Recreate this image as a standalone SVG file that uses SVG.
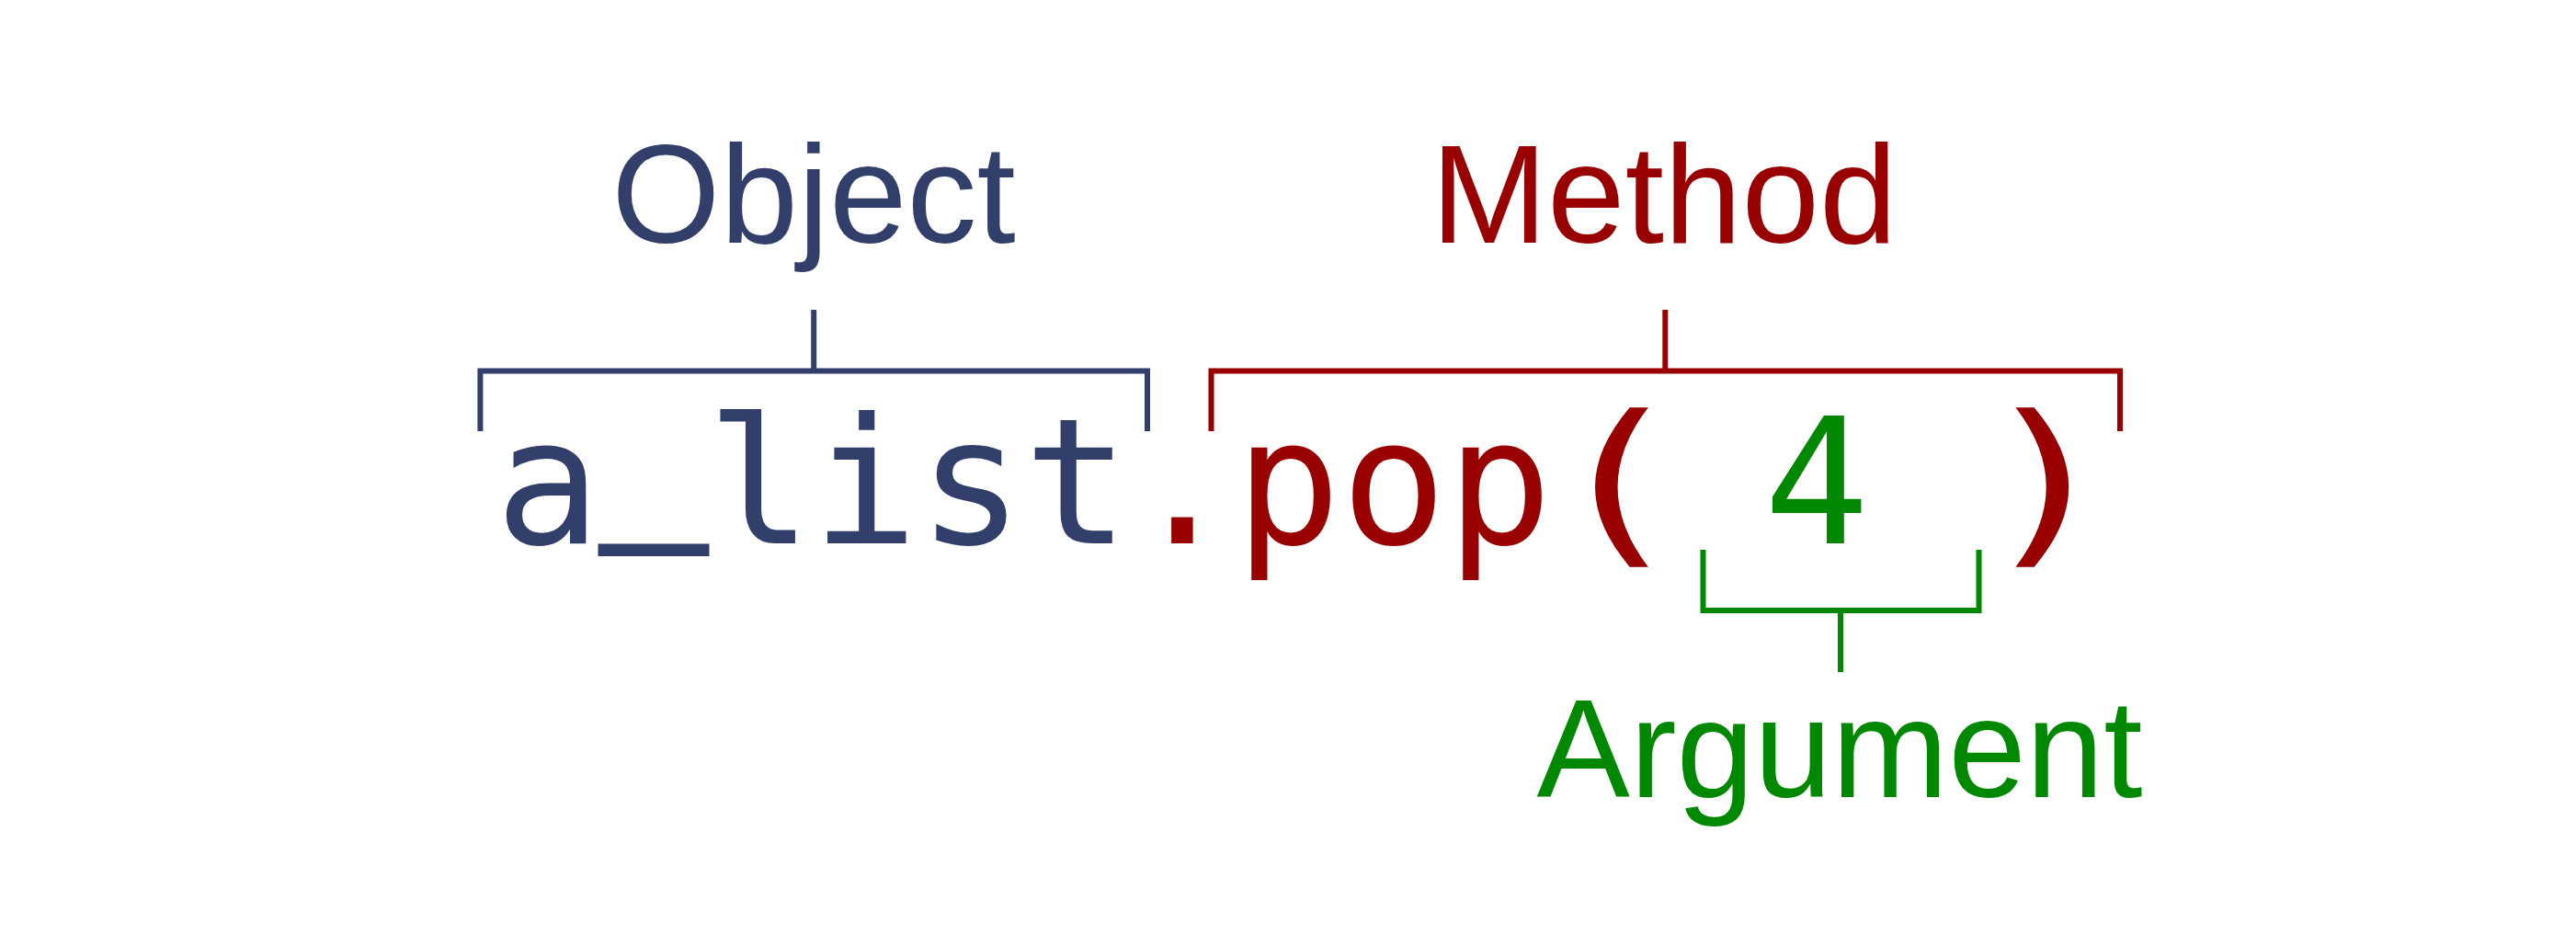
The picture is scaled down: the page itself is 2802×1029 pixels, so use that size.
<svg xmlns="http://www.w3.org/2000/svg" width="2802" height="1029" viewBox="0 0 2802 1029">
<style>
.lbl{font-family:"Liberation Sans",Arial,sans-serif;font-size:152px;text-anchor:middle}
.code{font-family:"DejaVu Sans Mono","Liberation Mono",monospace;font-size:191px;white-space:pre}
.par{text-anchor:middle}
.br{fill:none;stroke-width:6;stroke-linejoin:miter;stroke-linecap:butt}
.blue{fill:#323f6b}.red{fill:#990000}.green{fill:#008800}
.sblue{stroke:#323f6b}.sred{stroke:#990000}.sgreen{stroke:#008800}
</style>
<rect width="2802" height="1029" fill="#ffffff"/>
<g id="code">
<text class="code" y="591"><tspan class="blue" x="538.5">a</tspan><tspan class="blue" x="653.5" dy="-34" stroke="#323f6b" stroke-width="6">_</tspan><tspan class="blue" x="768.5 883.5 998.5 1113.5" dy="34">list</tspan><tspan class="red" x="1228.5 1343.5 1458.5 1573.5">.pop</tspan><tspan class="green" x="1918.5">4</tspan></text>
<text class="code red par" x="1759" y="591" transform="translate(1759 0) scale(1.35 1.02) translate(-1759 -11.6)">(</text>
<text class="code red par" x="2220" y="591" transform="translate(2202 0) scale(1.35 1.02) translate(-2202 -11.6)">)</text>
</g>
<g id="object">
<text class="lbl blue" x="885" y="264">Object</text>
</g>
<g id="method">
<text class="lbl red" x="1810" y="264">Method</text>
</g>
<g id="argument">
<text class="lbl green" x="2001" y="867">Argument</text>
</g>
<g id="connectors">
<path class="br sblue" d="M522.4 469 V403.5 H1248 V469 M885.2 337 V403.5"/>
<path class="br sred" d="M1317.5 469 V403.5 H2306 V469 M1811.3 337 V403.5"/>
<path class="br sgreen" d="M1852.5 598 V664 H2152.5 V598 M2002 664 V731"/>
</g>
</svg>
